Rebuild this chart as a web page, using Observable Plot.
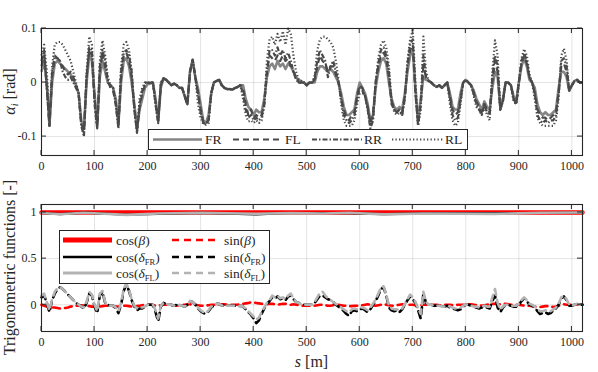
<!DOCTYPE html>
<html><head><meta charset="utf-8">
<script src="https://cdn.jsdelivr.net/npm/d3@7"></script>
<script src="https://cdn.jsdelivr.net/npm/@observablehq/plot@0.6"></script>
<style>
body{margin:0;background:#fff;}
#wrap{position:relative;width:598px;height:372px;background:#fff;}
#wrap svg{position:absolute;left:0;overflow:visible;}
#wrap svg text{font-family:'Liberation Serif','Times New Roman',serif;}
</style></head><body><div id="wrap"></div>
<script>
// ---------- data ----------
const s = [
0,5,10,15,20,25,30,35,40,45,50,55,60,65,70,75,80,85,90,95,
100,105,110,115,120,125,130,135,140,145,150,155,160,165,170,175,180,185,190,195,
200,205,210,215,220,225,230,235,240,245,250,255,260,265,270,275,280,285,290,295,
300,305,310,315,320,325,330,335,340,345,350,355,360,365,370,375,380,385,390,395,
400,405,410,415,420,425,430,435,440,445,450,455,460,465,470,475,480,485,490,495,
500,505,510,515,520,525,530,535,540,545,550,555,560,565,570,575,580,585,590,595,
600,605,610,615,620,625,630,635,640,645,650,655,660,665,670,675,680,685,690,695,
700,705,710,715,720,725,730,735,740,745,750,755,760,765,770,775,780,785,790,795,
800,805,810,815,820,825,830,835,840,845,850,855,860,865,870,875,880,885,890,895,
900,905,910,915,920,925,930,935,940,945,950,955,960,965,970,975,980,985,990,995,
1000,1005,1010,1015,1020];

const alphaFR = [
0.02,0.04,0.0,-0.08,0.0,0.035,0.04,0.035,0.03,0.025,0.02,0.015,0.005,-0.005,-0.02,-0.07,-0.085,0.0,0.05,0.04,
-0.02,-0.08,0.01,0.04,0.02,0.0,-0.005,-0.01,-0.03,-0.075,0.0,0.04,0.045,0.03,0.0,-0.04,-0.085,-0.05,-0.03,-0.01,
-0.003,-0.002,0.0,-0.03,-0.07,-0.01,0.008,0.005,0.0,-0.005,-0.002,-0.005,-0.01,-0.01,-0.025,-0.04,0.02,0.042,0.01,-0.01,
-0.04,-0.07,-0.075,-0.06,-0.02,0.0,0.003,0.005,-0.005,-0.01,-0.012,-0.012,-0.013,-0.01,-0.008,-0.005,-0.005,-0.03,-0.045,-0.05,
-0.06,-0.05,-0.055,-0.055,-0.03,0.01,0.03,0.035,0.025,0.04,0.03,0.035,0.025,0.035,0.03,0.02,0.01,0.005,0.002,0.0,
-0.005,0.0,0.0,0.0,0.02,0.03,0.03,0.025,0.02,0.025,0.02,0.01,0.0,-0.02,-0.045,-0.06,-0.06,-0.055,-0.05,-0.02,
0.0,-0.01,-0.02,-0.04,-0.07,-0.06,-0.01,0.02,0.04,0.045,0.035,0.0,-0.03,-0.045,-0.05,-0.045,-0.05,-0.02,0.02,0.05,
0.06,-0.01,-0.07,-0.03,0.01,0.005,0.003,0.0,-0.005,-0.008,-0.005,-0.01,-0.005,0.0,-0.02,-0.045,-0.05,-0.05,-0.02,0.0,
0.005,0.0,-0.005,-0.015,-0.03,-0.04,-0.05,-0.035,-0.045,-0.05,-0.01,0.02,0.01,-0.045,-0.03,0.0,0.0,-0.005,-0.025,-0.035,
0.0,0.03,0.045,0.03,0.005,0.0,-0.01,-0.04,-0.055,-0.06,-0.055,-0.06,-0.06,-0.055,-0.05,-0.01,0.02,0.02,0.01,-0.015,
-0.005,0.003,0.005,0.0,0.0];

const alphaFL = [
0.03,0.05,-0.01,-0.08,0.01,0.045,0.045,0.04,0.03,0.02,0.015,0.02,0.01,-0.005,-0.02,-0.075,-0.09,0.01,0.06,0.05,
-0.03,-0.082,0.02,0.055,0.03,0.0,-0.005,-0.015,-0.04,-0.08,0.01,0.05,0.055,0.04,0.01,-0.045,-0.09,-0.045,-0.02,-0.005,
-0.002,0.0,0.0,-0.035,-0.072,-0.005,0.008,0.005,0.0,-0.005,-0.002,-0.005,-0.01,-0.01,-0.025,-0.04,0.02,0.042,0.01,-0.02,
-0.05,-0.072,-0.076,-0.07,-0.02,0.0,0.003,0.005,-0.005,-0.01,-0.012,-0.012,-0.013,-0.01,-0.008,-0.005,-0.01,-0.04,-0.06,-0.05,
-0.065,-0.06,-0.065,-0.06,-0.04,0.02,0.05,0.045,0.04,0.05,0.04,0.05,0.04,0.045,0.03,0.02,0.01,0.0,0.0,0.0,
-0.005,0.0,0.0,0.005,0.03,0.05,0.04,0.035,0.02,0.03,0.03,0.015,0.0,-0.03,-0.05,-0.065,-0.07,-0.06,-0.055,-0.025,
-0.005,-0.01,-0.025,-0.045,-0.075,-0.06,0.0,0.03,0.05,0.055,0.045,0.01,-0.035,-0.05,-0.055,-0.05,-0.055,-0.025,0.03,0.06,
0.07,-0.02,-0.075,-0.04,0.03,0.01,0.003,0.0,-0.005,-0.008,-0.005,-0.01,-0.005,0.0,-0.025,-0.05,-0.06,-0.055,-0.03,0.0,
0.005,0.0,-0.005,-0.02,-0.035,-0.045,-0.055,-0.04,-0.05,-0.055,0.0,0.04,0.02,-0.05,-0.035,0.0,0.0,-0.005,-0.03,-0.04,
0.0,0.035,0.05,0.035,0.01,0.0,-0.02,-0.05,-0.06,-0.065,-0.065,-0.07,-0.065,-0.06,-0.055,-0.02,0.03,0.035,0.02,-0.015,
-0.005,0.003,0.005,0.0,0.0];

const alphaRR = [
0.04,0.06,-0.01,-0.08,0.02,0.05,0.045,0.04,0.02,0.01,0.005,0.01,0.0,-0.01,-0.02,-0.08,-0.1,0.01,0.065,0.06,
-0.04,-0.085,0.03,0.06,0.04,0.005,-0.01,-0.01,-0.04,-0.085,0.02,0.055,0.06,0.05,0.02,-0.05,-0.093,-0.04,-0.015,0.0,
0.0,0.0,0.0,-0.04,-0.075,0.0,0.008,0.005,0.0,-0.005,-0.002,-0.005,-0.01,-0.01,-0.025,-0.04,0.02,0.042,0.01,-0.02,
-0.055,-0.075,-0.077,-0.07,-0.02,0.0,0.003,0.005,-0.005,-0.01,-0.012,-0.012,-0.013,-0.01,-0.008,-0.005,-0.02,-0.05,-0.065,-0.06,
-0.07,-0.065,-0.07,-0.065,-0.04,0.02,0.06,0.06,0.05,0.065,0.05,0.06,0.045,0.055,0.04,0.02,0.005,0.0,0.0,0.0,
-0.005,0.0,0.0,0.01,0.04,0.06,0.05,0.04,0.01,0.03,0.04,0.02,0.0,-0.03,-0.06,-0.07,-0.075,-0.07,-0.06,-0.03,
-0.01,-0.015,-0.025,-0.05,-0.085,-0.07,0.0,0.035,0.06,0.065,0.05,0.02,-0.04,-0.05,-0.055,-0.05,-0.06,-0.03,0.035,0.07,
0.08,-0.02,-0.08,-0.04,0.05,0.01,0.003,0.0,-0.005,-0.008,-0.005,-0.01,-0.005,0.0,-0.03,-0.06,-0.07,-0.065,-0.035,0.0,
0.005,0.0,-0.005,-0.02,-0.04,-0.05,-0.06,-0.04,-0.055,-0.06,0.01,0.05,0.03,-0.05,-0.035,0.0,0.0,-0.005,-0.03,-0.04,
0.0,0.04,0.055,0.04,0.01,0.0,-0.02,-0.06,-0.07,-0.075,-0.07,-0.075,-0.07,-0.07,-0.06,-0.02,0.04,0.045,0.03,-0.015,
-0.005,0.003,0.005,0.0,0.0];

const alphaRL = [
0.05,0.07,0.02,-0.07,0.03,0.07,0.075,0.075,0.07,0.06,0.05,0.04,0.02,0.0,-0.02,-0.08,-0.095,0.02,0.085,0.07,
-0.03,-0.08,0.04,0.078,0.05,0.01,-0.005,-0.01,-0.035,-0.08,0.03,0.07,0.075,0.06,0.02,-0.05,-0.09,-0.03,-0.01,0.0,
0.0,0.0,0.0,-0.04,-0.073,0.0,0.008,0.005,0.0,-0.005,-0.002,-0.005,-0.01,-0.01,-0.025,-0.04,0.02,0.042,0.01,-0.04,
-0.065,-0.077,-0.078,-0.075,-0.02,0.0,0.003,0.005,-0.005,-0.01,-0.012,-0.012,-0.013,-0.01,-0.008,-0.005,-0.03,-0.06,-0.072,-0.07,
-0.075,-0.07,-0.075,-0.07,-0.045,0.04,0.08,0.085,0.07,0.09,0.075,0.095,0.07,0.1,0.09,0.05,0.02,0.005,0.003,0.0,
-0.005,0.0,0.0,0.01,0.06,0.08,0.085,0.085,0.08,0.075,0.065,0.04,0.005,-0.04,-0.07,-0.08,-0.08,-0.08,-0.07,-0.04,
-0.02,-0.02,-0.025,-0.05,-0.08,-0.07,0.0,0.045,0.07,0.078,0.065,0.03,-0.03,-0.055,-0.06,-0.055,-0.06,-0.03,0.04,0.08,
0.097,0.0,-0.08,-0.05,0.085,0.02,0.003,0.0,-0.005,-0.008,-0.005,-0.01,-0.005,0.0,-0.04,-0.07,-0.08,-0.075,-0.04,0.0,
0.005,0.0,-0.005,-0.025,-0.045,-0.05,-0.06,-0.045,-0.06,-0.07,0.02,0.078,0.05,-0.05,-0.03,0.0,0.0,-0.005,-0.035,-0.04,
0.0,0.045,0.062,0.05,0.015,0.0,-0.03,-0.065,-0.075,-0.08,-0.08,-0.08,-0.08,-0.08,-0.07,-0.03,0.05,0.063,0.04,-0.015,
-0.005,0.003,0.005,0.0,0.0];

const sinBeta = [
0.0,-0.01,-0.02,-0.02,-0.03,-0.03,-0.035,-0.04,-0.04,-0.035,-0.03,-0.02,-0.015,-0.01,-0.01,-0.005,-0.01,-0.01,-0.015,-0.02,
-0.02,-0.02,-0.02,-0.015,-0.01,-0.01,-0.01,-0.015,-0.02,-0.02,-0.015,-0.01,-0.01,-0.015,-0.02,-0.02,-0.015,-0.01,-0.005,0.0,
0.0,0.0,-0.005,-0.01,-0.01,-0.005,0.0,0.0,0.0,-0.005,-0.01,-0.01,-0.005,0.0,0.0,0.005,0.005,0.0,0.0,-0.005,
-0.01,-0.01,-0.01,-0.005,0.0,0.0,0.0,0.0,0.005,0.005,0.0,0.0,0.0,0.0,0.0,0.005,0.01,0.015,0.02,0.025,
0.025,0.02,0.015,0.01,0.005,0.005,0.01,0.01,0.005,0.0,0.005,0.01,0.01,0.005,0.0,0.005,0.0,-0.005,-0.01,-0.01,
-0.01,-0.01,-0.01,-0.01,-0.005,0.0,0.0,-0.005,-0.01,-0.01,-0.005,0.0,0.0,-0.005,-0.01,-0.01,-0.015,-0.015,-0.01,-0.01,
-0.01,-0.005,0.0,0.005,0.0,-0.005,-0.01,-0.005,0.0,0.005,0.0,-0.005,-0.01,-0.01,-0.005,0.0,0.005,0.0,0.0,0.0,
0.0,-0.005,-0.01,-0.005,0.0,0.0,0.005,0.0,0.0,0.0,-0.005,-0.005,0.0,0.0,0.0,-0.005,-0.005,0.0,0.0,0.0,
0.0,0.005,0.005,0.0,-0.005,-0.005,-0.01,-0.005,0.0,0.005,0.01,0.01,0.005,0.005,0.01,0.01,0.005,0.0,0.0,0.0,
0.0,-0.005,-0.01,-0.01,-0.01,-0.015,-0.02,-0.025,-0.025,-0.02,-0.015,-0.015,-0.02,-0.025,-0.02,-0.01,0.0,0.005,0.0,0.0,
0.0,0.0,0.0,0.0,0.0];

const sinDeltaFR = [
0.08,0.1,0.02,-0.08,0.05,0.12,0.17,0.19,0.17,0.14,0.11,0.08,0.05,0.02,0.0,-0.02,-0.04,0.02,0.12,0.1,
-0.02,-0.09,0.1,0.14,0.02,0.0,-0.01,-0.01,-0.04,-0.09,0.0,0.15,0.22,0.15,0.05,-0.02,-0.06,-0.04,-0.04,-0.02,
0.0,0.0,0.0,-0.08,-0.18,-0.02,0.02,0.01,0.0,0.0,-0.01,0.0,0.0,-0.01,-0.02,0.0,0.04,0.03,0.0,-0.04,
-0.07,-0.09,-0.1,-0.07,-0.03,-0.01,0.01,0.01,-0.01,0.0,-0.01,-0.01,-0.01,-0.01,-0.02,-0.01,-0.02,-0.05,-0.08,-0.11,
-0.15,-0.2,-0.17,-0.1,-0.04,0.01,0.04,0.08,0.07,0.09,0.06,0.07,0.05,0.09,0.1,0.06,0.03,0.02,0.0,0.0,
0.0,0.0,0.0,0.02,0.06,0.1,0.1,0.08,0.06,0.05,0.03,0.0,-0.02,-0.04,-0.07,-0.1,-0.12,-0.07,-0.06,-0.07,
-0.05,-0.04,-0.06,-0.08,-0.05,0.0,0.04,0.1,0.17,0.19,0.1,-0.03,-0.06,-0.07,-0.06,-0.08,-0.05,0.0,0.05,0.09,
0.06,0.02,-0.06,-0.15,0.12,0.02,0.0,0.0,-0.01,-0.01,-0.01,-0.02,-0.02,-0.01,-0.03,-0.04,-0.05,-0.06,-0.05,-0.02,
0.0,0.0,-0.01,-0.02,-0.03,-0.04,-0.03,-0.02,-0.03,-0.04,0.04,0.1,-0.03,-0.08,-0.03,0.0,0.0,-0.01,-0.02,-0.02,
0.0,0.04,0.07,0.04,0.0,-0.01,-0.03,-0.07,-0.1,-0.09,-0.08,-0.1,-0.09,-0.06,-0.04,0.0,0.07,0.09,0.05,-0.01,
-0.01,0.0,0.01,0.0,0.0];

const sinDeltaFL = [
0.1,0.12,0.03,-0.06,0.06,0.14,0.18,0.19,0.17,0.14,0.11,0.08,0.05,0.02,0.0,-0.02,-0.03,0.03,0.14,0.11,
0.0,-0.07,0.12,0.15,0.03,0.0,-0.01,-0.01,-0.03,-0.07,0.02,0.17,0.23,0.16,0.06,-0.01,-0.04,-0.03,-0.03,-0.02,
0.0,0.0,0.0,-0.06,-0.15,-0.01,0.02,0.01,0.0,0.0,-0.01,0.0,0.0,-0.01,-0.02,0.0,0.04,0.03,0.0,-0.03,
-0.06,-0.08,-0.09,-0.06,-0.02,-0.01,0.01,0.01,-0.01,0.0,-0.01,-0.01,-0.01,-0.01,-0.02,-0.01,-0.02,-0.04,-0.07,-0.1,
-0.13,-0.16,-0.14,-0.08,-0.03,0.02,0.05,0.1,0.08,0.1,0.07,0.08,0.06,0.1,0.12,0.07,0.03,0.02,0.0,0.0,
0.0,0.0,0.0,0.03,0.08,0.13,0.14,0.1,0.07,0.05,0.03,0.01,-0.01,-0.03,-0.05,-0.07,-0.08,-0.05,-0.04,-0.05,
-0.03,-0.03,-0.04,-0.06,-0.03,0.01,0.06,0.12,0.19,0.2,0.11,-0.01,-0.04,-0.05,-0.05,-0.06,-0.04,0.01,0.06,0.11,
0.08,0.03,-0.04,-0.1,0.14,0.03,0.0,0.0,-0.01,-0.01,-0.01,-0.02,-0.02,-0.01,-0.02,-0.03,-0.04,-0.04,-0.03,-0.01,
0.0,0.0,-0.01,-0.02,-0.02,-0.03,-0.02,-0.01,-0.02,-0.02,0.08,0.17,0.02,-0.05,-0.02,0.0,0.0,-0.01,-0.01,-0.01,
0.01,0.05,0.08,0.05,0.01,0.0,-0.02,-0.05,-0.07,-0.07,-0.06,-0.07,-0.07,-0.05,-0.03,0.01,0.08,0.1,0.06,0.0,
-0.01,0.0,0.01,0.0,0.0];

const cosS       = [0, 35, 80, 110, 160, 220, 300, 405, 470, 530, 580, 645, 720, 855, 940, 1020];
const cosBeta    = [1, 0.999, 1, 1, 1, 1, 1, 1, 1, 1, 1, 1, 1, 1, 1, 1];
const cosDeltaFR = [0.996, 0.982, 0.998, 0.99, 0.976, 0.984, 0.996, 0.98, 0.995, 0.995, 0.993, 0.982, 0.99, 0.995, 0.995, 1];
const cosDeltaFL = [0.995, 0.982, 0.998, 0.989, 0.974, 0.989, 0.996, 0.987, 0.993, 0.99, 0.997, 0.98, 0.99, 0.985, 0.997, 1];

const xTicks = [0, 100, 200, 300, 400, 500, 600, 700, 800, 900, 1000];
const yTicksTop = [-0.1, 0, 0.1];
const yTicksBot = [0, 0.5, 1];
const topNames = ["FR", "FL", "RR", "RL"];

// ---------- build ----------
const FONT = "'Liberation Serif', 'Times New Roman', serif";
const INK = "#262626";
const rowsTop = s.map((v, i) => ({s: v, FR: alphaFR[i], FL: alphaFL[i], RR: alphaRR[i], RL: alphaRL[i]}));
const rowsBot = s.map((v, i) => ({s: v, sB: sinBeta[i], sFR: sinDeltaFR[i], sFL: sinDeltaFL[i]}));
const rowsCos = cosS.map((v, i) => ({s: v, cB: cosBeta[i], cFR: cosDeltaFR[i], cFL: cosDeltaFL[i]}));
const fmt = d => (d === 0 ? "0" : String(d));

const topStyles = {
  FR: {stroke: "#858585", strokeWidth: 2.6, strokeDasharray: null, strokeLinecap: "butt"},
  FL: {stroke: "#4a4a4a", strokeWidth: 2.2, strokeDasharray: "6,4", strokeLinecap: "butt"},
  RR: {stroke: "#4a4a4a", strokeWidth: 2.2, strokeDasharray: "5,2,1.5,2", strokeLinecap: "butt"},
  RL: {stroke: "#4a4a4a", strokeWidth: 2.2, strokeDasharray: "1.3,2.2", strokeLinecap: "butt"}
};

const gridOpts = {stroke: "#000", strokeOpacity: 0.11, strokeWidth: 1};

const topPlot = Plot.plot({
  width: 598, height: 180,
  marginLeft: 41, marginRight: 16, marginTop: 28, marginBottom: 25,
  style: {fontFamily: FONT, fontSize: "12px", color: INK, background: "transparent", overflow: "visible"},
  x: {domain: [0, 1020]},
  y: {domain: [-0.135, 0.1]},
  marks: [
    Plot.gridX(xTicks, gridOpts),
    Plot.gridY(yTicksTop, gridOpts),
    ...topNames.map(k => Plot.line(rowsTop, {x: "s", y: k, ...topStyles[k], strokeLinejoin: "round"})),
    Plot.frame({stroke: INK, strokeWidth: 1.1}),
    Plot.axisX(xTicks, {tickSize: 0, tickPadding: 6, label: null, tickFormat: fmt}),
    Plot.axisY(yTicksTop, {tickSize: 0, tickPadding: 5, label: null, tickFormat: fmt})
  ]
});

const botPlot = Plot.plot({
  width: 598, height: 192,
  marginLeft: 41, marginRight: 16, marginTop: 24, marginBottom: 41,
  style: {fontFamily: FONT, fontSize: "12px", color: INK, background: "transparent", overflow: "visible"},
  x: {domain: [0, 1020]},
  y: {domain: [-0.29, 1.087]},
  marks: [
    Plot.gridX(xTicks, gridOpts),
    Plot.gridY(yTicksBot, gridOpts),
    Plot.line(rowsCos, {x: "s", y: "cB", stroke: "#ff0000", strokeWidth: 4.5}),
    Plot.line(rowsBot, {x: "s", y: "sB", stroke: "#ff0000", strokeWidth: 2.6, strokeDasharray: "7,5"}),
    Plot.line(rowsCos, {x: "s", y: "cFR", stroke: "#000000", strokeWidth: 2.2}),
    Plot.line(rowsBot, {x: "s", y: "sFR", stroke: "#000000", strokeWidth: 2.6, strokeDasharray: "7,5"}),
    Plot.line(rowsCos, {x: "s", y: "cFL", stroke: "#b3b3b3", strokeWidth: 2.6}),
    Plot.line(rowsBot, {x: "s", y: "sFL", stroke: "#b3b3b3", strokeWidth: 2.6, strokeDasharray: "7,5"}),
    Plot.frame({stroke: INK, strokeWidth: 1.1}),
    Plot.axisX(xTicks, {tickSize: 0, tickPadding: 6, label: null, tickFormat: fmt}),
    Plot.axisY(yTicksBot, {tickSize: 0, tickPadding: 5, label: null, tickFormat: fmt})
  ]
});

const wrap = document.getElementById("wrap");
topPlot.style.top = "0px";
botPlot.style.top = "180px";
wrap.appendChild(topPlot);
wrap.appendChild(botPlot);

// inward ticks on all four sides (MATLAB style), placed with the plot's own scales
function innerTicks(plot, xt, yt) {
  const xs = plot.scale("x"), ys = plot.scale("y");
  const [x0, x1] = xs.range, [yb, yt0] = ys.range;
  const g = d3.select(plot).append("g").attr("stroke", INK).attr("stroke-width", 1);
  for (const t of xt) {
    const x = xs.apply(t);
    g.append("line").attr("x1", x).attr("x2", x).attr("y1", yb).attr("y2", yb - 5);
    g.append("line").attr("x1", x).attr("x2", x).attr("y1", yt0).attr("y2", yt0 + 5);
  }
  for (const t of yt) {
    const y = ys.apply(t);
    g.append("line").attr("y1", y).attr("y2", y).attr("x1", x0).attr("x2", x0 + 5);
    g.append("line").attr("y1", y).attr("y2", y).attr("x1", x1).attr("x2", x1 - 5);
  }
}
innerTicks(topPlot, xTicks, yTicksTop);
innerTicks(botPlot, xTicks, yTicksBot);

// rich text helper
function richText(sel, parts, size, anchor) {
  const t = sel.append("text").attr("font-family", FONT).attr("font-size", size).attr("fill", INK)
    .attr("text-anchor", anchor || "start");
  for (const p of parts) {
    const ts = t.append("tspan").text(p.t);
    if (p.i) ts.attr("font-style", "italic");
    if (p.sub) ts.attr("font-size", p.sub).attr("dy", p.dy);
    else if (p.dy) ts.attr("dy", p.dy);
  }
  return t;
}

// axis labels
{
  const top = d3.select(topPlot);
  const ty = topPlot.scale("y").range;
  richText(top, [{t: "α", i: 1}, {t: "i", i: 1, sub: 10, dy: 3}, {t: " [rad]", dy: -3}], 16, "middle")
    .attr("transform", `translate(15,${(ty[0] + ty[1]) / 2}) rotate(-90)`);
  const bot = d3.select(botPlot);
  const by = botPlot.scale("y").range, bx = botPlot.scale("x").range;
  richText(bot, [{t: "Trigonometric functions [-]"}], 16, "middle")
    .attr("transform", `translate(15,${(by[0] + by[1]) / 2}) rotate(-90)`);
  richText(bot, [{t: "s", i: 1}, {t: " [m]"}], 16, "middle")
    .attr("x", (bx[0] + bx[1]) / 2).attr("y", 187);
}

// top legend
{
  const g = d3.select(topPlot).append("g");
  g.append("rect").attr("x", 148.5).attr("y", 129.5).attr("width", 319).attr("height", 20)
    .attr("fill", "#fff").attr("stroke", INK).attr("stroke-width", 1);
  const items = [
    {k: "FR", x1: 153, x2: 202, tx: 205},
    {k: "FL", x1: 233, x2: 282, tx: 285},
    {k: "RR", x1: 312, x2: 362, tx: 364},
    {k: "RL", x1: 392, x2: 443, tx: 445}
  ];
  for (const it of items) {
    const st = topStyles[it.k];
    g.append("line").attr("x1", it.x1).attr("x2", it.x2).attr("y1", 139.5).attr("y2", 139.5)
      .attr("stroke", st.stroke).attr("stroke-width", st.strokeWidth)
      .attr("stroke-dasharray", st.strokeDasharray);
    richText(g, [{t: it.k}], 13.5).attr("x", it.tx).attr("y", 144);
  }
}

// bottom legend
{
  const g = d3.select(botPlot).append("g");
  g.append("rect").attr("x", 59.5).attr("y", 50.5).attr("width", 210).attr("height", 53)
    .attr("fill", "#fff").attr("stroke", INK).attr("stroke-width", 1);
  const rowsY = [60, 77, 93];
  const col = [
    [{c: "#ff0000", w: 5, d: null, sym: "β"}, {c: "#000", w: 2.6, d: null, sym: "δ", sub: "FR"}, {c: "#b3b3b3", w: 3, d: null, sym: "δ", sub: "FL"}],
    [{c: "#ff0000", w: 2.6, d: "7,5", sym: "β"}, {c: "#000", w: 2.6, d: "7,5", sym: "δ", sub: "FR"}, {c: "#b3b3b3", w: 2.6, d: "7,5", sym: "δ", sub: "FL"}]
  ];
  const fn = ["cos(", "sin("];
  const lx = [[63, 112, 116], [172, 220, 224]];
  col.forEach((items, ci) => items.forEach((it, ri) => {
    const y = rowsY[ri];
    g.append("line").attr("x1", lx[ci][0]).attr("x2", lx[ci][1]).attr("y1", y).attr("y2", y)
      .attr("stroke", it.c).attr("stroke-width", it.w).attr("stroke-dasharray", it.d);
    const parts = [{t: fn[ci]}, {t: it.sym, i: 1}];
    if (it.sub) { parts.push({t: it.sub, sub: 8.5, dy: 3}); parts.push({t: ")", dy: -3}); }
    else parts.push({t: ")"});
    richText(g, parts, 13.5).attr("x", lx[ci][2]).attr("y", y + 4.5);
  }));
}
</script>
</body></html>
